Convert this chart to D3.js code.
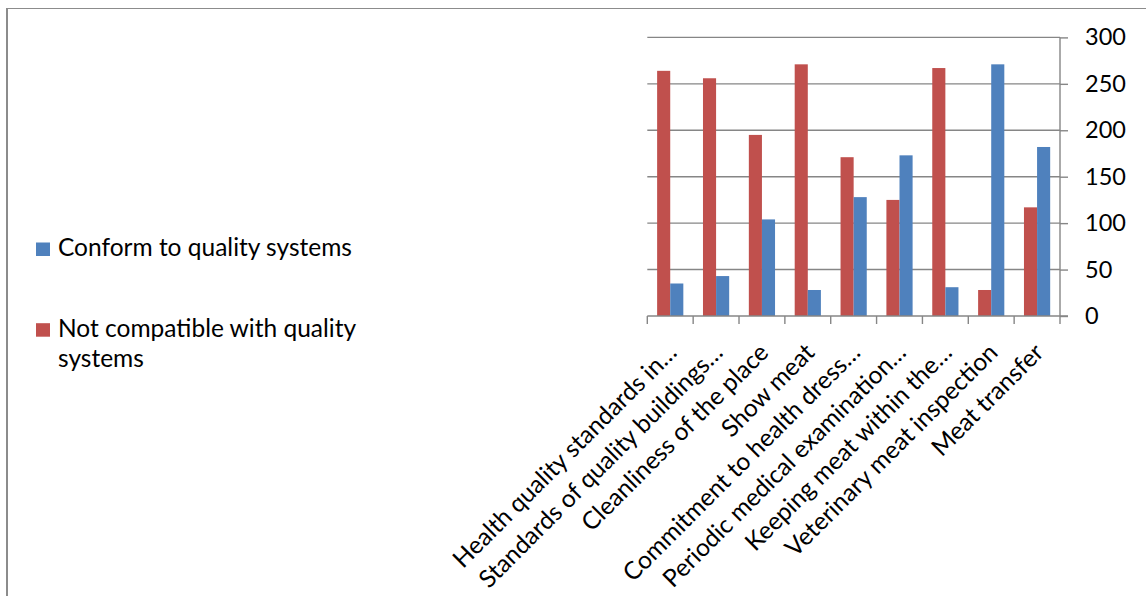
<!DOCTYPE html>
<html>
<head>
<meta charset="utf-8">
<script src="https://cdn.jsdelivr.net/npm/d3@7"></script>
<style>
  html, body { margin: 0; padding: 0; background: #fff; }
  svg { display: block; }
  text { font-family: Lato, "Open Sans", sans-serif; fill: #000; }
</style>
</head>
<body>
<svg id="chart" width="1146" height="596"></svg>
<script>
// Survey results per inspection item (number of responses)
const categories = [
  "Health quality standards in…",
  "Standards of quality buildings…",
  "Cleanliness of the place",
  "Show meat",
  "Commitment to health dress…",
  "Periodic medical examination…",
  "Keeping meat within the…",
  "Veterinary meat inspection",
  "Meat transfer"
];
const notCompatible = [264, 256, 195, 271, 171, 125, 267, 28, 117];
const conform       = [35, 43, 104, 28, 128, 173, 31, 271, 182];
const seriesNames = ["Not compatible with quality systems", "Conform to quality systems"];
const yTicks = [0, 50, 100, 150, 200, 250, 300];

const colors = { "Not compatible with quality systems": "#C0504D", "Conform to quality systems": "#4F81BD" };
const gridColor = "#868686";
const labelSize = 24.5;

const svg = d3.select("#chart");

// outer frame
svg.append("line").attr("x1", 7).attr("x2", 7).attr("y1", 8).attr("y2", 596)
  .attr("stroke", "#8c8c8c").attr("stroke-width", 2);
svg.append("line").attr("x1", 6).attr("x2", 1146).attr("y1", 8.5).attr("y2", 8.5)
  .attr("stroke", "#8c8c8c").attr("stroke-width", 1);

const plot = { left: 647.3, right: 1060, top: 37.4, bottom: 316 };

const x = d3.scaleBand().domain(categories).range([plot.left, plot.right]).padding(0);
const xs = d3.scaleBand().domain(seriesNames).range([0, x.bandwidth()])
  .paddingInner(0).paddingOuter(0.75);
const y = d3.scaleLinear().domain([0, 300]).range([plot.bottom, plot.top]);

// horizontal gridlines
svg.append("g").selectAll("line").data(yTicks.filter(t => t > 0)).join("line")
  .attr("x1", plot.left).attr("x2", plot.right)
  .attr("y1", d => y(d)).attr("y2", d => y(d))
  .attr("stroke", gridColor).attr("stroke-width", 1.4);

// bars
const rows = categories.map((c, i) => ({
  cat: c,
  vals: [
    { s: seriesNames[0], v: notCompatible[i] },
    { s: seriesNames[1], v: conform[i] }
  ]
}));
svg.append("g").selectAll("g").data(rows).join("g")
  .attr("transform", d => `translate(${x(d.cat)},0)`)
  .selectAll("rect").data(d => d.vals).join("rect")
  .attr("x", d => xs(d.s))
  .attr("width", xs.bandwidth())
  .attr("y", d => y(d.v))
  .attr("height", d => y(0) - y(d.v))
  .attr("fill", d => colors[d.s]);

// right value axis
const yAxis = d3.axisRight(y).tickValues(yTicks).tickSize(8).tickPadding(17);
const gy = svg.append("g").attr("transform", `translate(${plot.right},0)`).call(yAxis);
gy.select(".domain").attr("stroke", gridColor).attr("stroke-width", 1.4).attr("d", `M0,${plot.top}V${plot.bottom}`);
gy.selectAll(".tick line").attr("stroke", gridColor).attr("stroke-width", 1.4);
gy.selectAll(".tick text").attr("font-size", 23.5).attr("font-family", "Lato, sans-serif").attr("fill", "#000");

// category axis: baseline and boundary ticks
svg.append("line").attr("x1", plot.left).attr("x2", plot.right + 8)
  .attr("y1", plot.bottom).attr("y2", plot.bottom)
  .attr("stroke", gridColor).attr("stroke-width", 1.4);
const bounds = categories.map(c => x(c)).concat([plot.right]);
svg.append("g").selectAll("line").data(bounds).join("line")
  .attr("x1", d => d).attr("x2", d => d)
  .attr("y1", plot.bottom).attr("y2", plot.bottom + 8)
  .attr("stroke", gridColor).attr("stroke-width", 1.4);

// rotated category labels
svg.append("g").selectAll("text").data(categories).join("text")
  .attr("transform", d => `translate(${x(d) + x.bandwidth() / 2 + 2},${plot.bottom + 32}) rotate(-45)`)
  .attr("text-anchor", "end")
  .attr("dy", "0.35em")
  .attr("font-size", labelSize)
  .text(d => d);

// legend
const legend = svg.append("g");
const legendItems = [
  { name: "Conform to quality systems", lines: ["Conform to quality systems"], y: 256 },
  { name: "Not compatible with quality systems", lines: ["Not compatible with quality", "systems"], y: 336.7 }
];
legendItems.forEach(it => {
  legend.append("rect").attr("x", 36).attr("y", it.y - 13.5).attr("width", 14).attr("height", 13.5)
    .attr("fill", colors[it.name]);
  const t = legend.append("text").attr("x", 58).attr("y", it.y).attr("font-size", labelSize);
  it.lines.forEach((ln, i) => t.append("tspan").attr("x", 58).attr("dy", i === 0 ? 0 : 30).text(ln));
});
</script>
</body>
</html>
